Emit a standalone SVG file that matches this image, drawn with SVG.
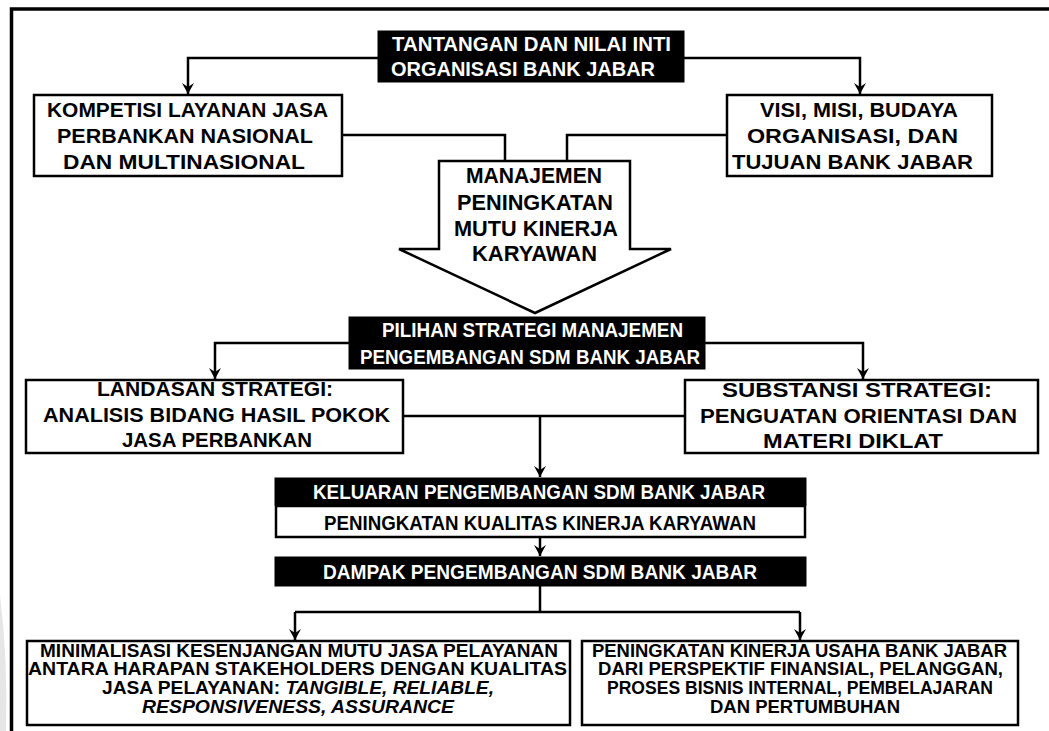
<svg xmlns="http://www.w3.org/2000/svg" width="1049" height="731" viewBox="0 0 1049 731">
<style>
.box{fill:#fff;stroke:#000;stroke-width:2.5}
.dark{fill:#000;stroke:#000;stroke-width:1}
.t{font-family:"Liberation Sans",Arial,sans-serif;font-weight:bold;fill:#000;text-anchor:middle}
.w{fill:#fff}
.c{fill:none;stroke:#000;stroke-width:2.5}
.it{font-style:italic}
</style>
<defs>
<marker id="ah" markerUnits="userSpaceOnUse" markerWidth="14" markerHeight="14" viewBox="-12 -7 14 14" refX="0" refY="0" orient="auto">
<path d="M0,0 L-11,-6 L-7,0 L-11,6 Z" fill="#000"/>
</marker>
</defs>
<rect width="1049" height="731" fill="#fff"/>
<path d="M0,595 Q8,660 6,731 L0,731 Z" fill="#e6e6e6"/>
<path d="M11.5,731 V9 H1049" fill="none" stroke="#000" stroke-width="3.5"/>

<g id="connectors">
<path class="c" d="M378,58 H188 V94" marker-end="url(#ah)"/>
<path class="c" d="M684,58 H860 V94" marker-end="url(#ah)"/>
<path class="c" d="M342,135 H505 V161"/>
<path class="c" d="M727,135 H567 V161"/>
<path class="c" d="M349,343 H215 V379" marker-end="url(#ah)"/>
<path class="c" d="M705,343 H863 V379" marker-end="url(#ah)"/>
<path class="c" d="M403,416 H685"/>
<path class="c" d="M540,416 V477" marker-end="url(#ah)"/>
<path class="c" d="M540,537 V556" marker-end="url(#ah)"/>
<path class="c" d="M540,586 V612"/>
<path class="c" d="M295,612 H800"/>
<path class="c" d="M295,612 V640" marker-end="url(#ah)"/>
<path class="c" d="M800,612 V640" marker-end="url(#ah)"/>
</g>

<g id="n-tantangan">
<rect class="dark" x="378" y="31" width="306" height="51"/>
<text class="t w" font-size="21" x="531.5" y="51" textLength="279" lengthAdjust="spacingAndGlyphs">TANTANGAN DAN NILAI INTI</text>
<text class="t w" font-size="21" x="523" y="76" textLength="264" lengthAdjust="spacingAndGlyphs">ORGANISASI BANK JABAR</text>
</g>

<g id="n-kompetisi">
<rect class="box" x="34" y="95" width="308" height="81"/>
<text class="t" font-size="20" x="187.5" y="117" textLength="281" lengthAdjust="spacingAndGlyphs">KOMPETISI LAYANAN JASA</text>
<text class="t" font-size="20" x="185" y="143" textLength="256" lengthAdjust="spacingAndGlyphs">PERBANKAN NASIONAL</text>
<text class="t" font-size="20" x="184" y="169" textLength="242" lengthAdjust="spacingAndGlyphs">DAN MULTINASIONAL</text>
</g>

<g id="n-visi">
<rect class="box" x="727" y="95" width="265" height="81"/>
<text class="t" font-size="20" x="859" y="117" textLength="198" lengthAdjust="spacingAndGlyphs">VISI, MISI, BUDAYA</text>
<text class="t" font-size="20" x="852.5" y="143" textLength="211" lengthAdjust="spacingAndGlyphs">ORGANISASI, DAN</text>
<text class="t" font-size="20" x="852.5" y="169" textLength="241" lengthAdjust="spacingAndGlyphs">TUJUAN BANK JABAR</text>
</g>

<g id="n-manajemen">
<polygon points="439,161 630,161 630,249 671,249 535,313 399,249 439,249" fill="#fff" stroke="#000" stroke-width="2.5" stroke-linejoin="miter"/>
<text class="t" font-size="22" x="534" y="183" textLength="136" lengthAdjust="spacingAndGlyphs">MANAJEMEN</text>
<text class="t" font-size="22" x="535" y="210" textLength="156" lengthAdjust="spacingAndGlyphs">PENINGKATAN</text>
<text class="t" font-size="22" x="536" y="236" textLength="164" lengthAdjust="spacingAndGlyphs">MUTU KINERJA</text>
<text class="t" font-size="22" x="534.5" y="261" textLength="125" lengthAdjust="spacingAndGlyphs">KARYAWAN</text>
</g>

<g id="n-pilihan">
<rect class="dark" x="349" y="317" width="356" height="52"/>
<text class="t w" font-size="21" x="532.5" y="337" textLength="301" lengthAdjust="spacingAndGlyphs">PILIHAN STRATEGI MANAJEMEN</text>
<text class="t w" font-size="21" x="530" y="364" textLength="340" lengthAdjust="spacingAndGlyphs">PENGEMBANGAN SDM BANK JABAR</text>
</g>

<g id="n-landasan">
<rect class="box" x="26" y="380" width="377" height="73"/>
<text class="t" font-size="20" x="215" y="396" textLength="236" lengthAdjust="spacingAndGlyphs">LANDASAN STRATEGI:</text>
<text class="t" font-size="20" x="216.5" y="422" textLength="347" lengthAdjust="spacingAndGlyphs">ANALISIS BIDANG HASIL POKOK</text>
<text class="t" font-size="20" x="217" y="447" textLength="190" lengthAdjust="spacingAndGlyphs">JASA PERBANKAN</text>
</g>

<g id="n-substansi">
<rect class="box" x="685" y="380" width="353" height="73"/>
<text class="t" font-size="20" x="857" y="397" textLength="270" lengthAdjust="spacingAndGlyphs">SUBSTANSI STRATEGI:</text>
<text class="t" font-size="20" x="858.5" y="423" textLength="317" lengthAdjust="spacingAndGlyphs">PENGUATAN ORIENTASI DAN</text>
<text class="t" font-size="20" x="853" y="448" textLength="180" lengthAdjust="spacingAndGlyphs">MATERI DIKLAT</text>
</g>

<g id="n-keluaran">
<rect class="dark" x="275" y="478" width="531" height="27"/>
<text class="t w" font-size="20" x="539" y="499" textLength="452" lengthAdjust="spacingAndGlyphs">KELUARAN PENGEMBANGAN SDM BANK JABAR</text>
</g>

<g id="n-peningkatan-kualitas">
<rect class="box" x="276" y="506" width="529" height="31"/>
<text class="t" font-size="20" x="540" y="530" textLength="432" lengthAdjust="spacingAndGlyphs">PENINGKATAN KUALITAS KINERJA KARYAWAN</text>
</g>

<g id="n-dampak">
<rect class="dark" x="275" y="557" width="531" height="29"/>
<text class="t w" font-size="20" x="540" y="579" textLength="434" lengthAdjust="spacingAndGlyphs">DAMPAK PENGEMBANGAN SDM BANK JABAR</text>
</g>

<g id="n-minimalisasi">
<rect class="box" x="27" y="641" width="543" height="84"/>
<text class="t" font-size="18" x="299" y="657" textLength="518" lengthAdjust="spacingAndGlyphs">MINIMALISASI KESENJANGAN MUTU JASA PELAYANAN</text>
<text class="t" font-size="18" x="297.5" y="675" textLength="539" lengthAdjust="spacingAndGlyphs">ANTARA HARAPAN STAKEHOLDERS DENGAN KUALITAS</text>
<text class="t" font-size="18" x="298" y="694" textLength="392" lengthAdjust="spacingAndGlyphs">JASA PELAYANAN: <tspan class="it">TANGIBLE, RELIABLE,</tspan></text>
<text class="t it" font-size="18" x="298" y="713" textLength="312" lengthAdjust="spacingAndGlyphs">RESPONSIVENESS, ASSURANCE</text>
</g>

<g id="n-kinerja-usaha">
<rect class="box" x="582" y="641" width="436" height="84"/>
<text class="t" font-size="18" x="799.5" y="657" textLength="415" lengthAdjust="spacingAndGlyphs">PENINGKATAN KINERJA USAHA BANK JABAR</text>
<text class="t" font-size="18" x="800.5" y="675" textLength="405" lengthAdjust="spacingAndGlyphs">DARI PERSPEKTIF FINANSIAL, PELANGGAN,</text>
<text class="t" font-size="18" x="800" y="694" textLength="386" lengthAdjust="spacingAndGlyphs">PROSES BISNIS INTERNAL, PEMBELAJARAN</text>
<text class="t" font-size="18" x="805" y="713" textLength="190" lengthAdjust="spacingAndGlyphs">DAN PERTUMBUHAN</text>
</g>
</svg>
